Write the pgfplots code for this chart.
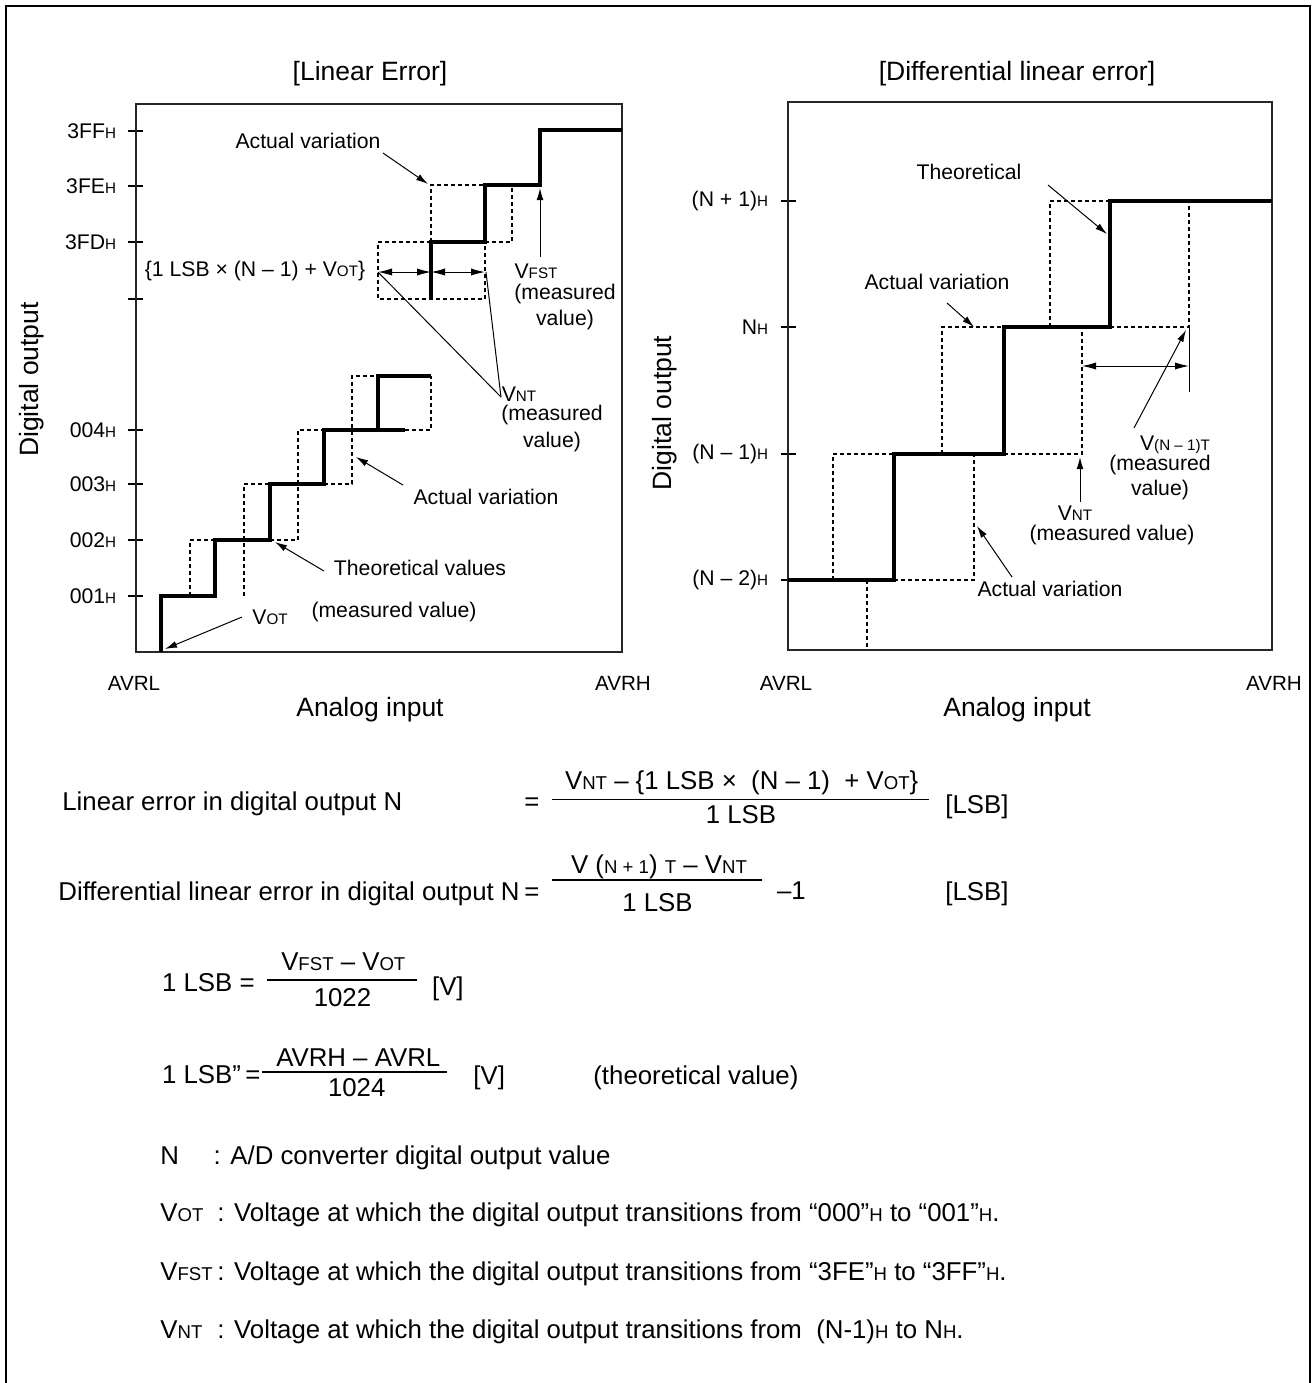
\documentclass[border=0pt]{standalone}
\usepackage{fontspec}
\setmainfont{Liberation Sans}
\usepackage{pgfplots}
\pgfplotsset{compat=1.18}
\usetikzlibrary{arrows.meta}

\newcommand{\fA}{\fontsize{10.6}{12.7}\selectfont}
\newcommand{\fS}{\fontsize{7.6}{9}\selectfont}
\newcommand{\fL}{\fontsize{13.25}{15.9}\selectfont}
\newcommand{\fB}{\fontsize{12.9}{15.5}\selectfont}
\newcommand{\fT}{\fontsize{10.3}{12}\selectfont}
\newcommand{\sH}{{\fS H}}
\newcommand{\sm}[1]{{\fS #1}}
\newcommand{\bs}[1]{{\fontsize{9.3}{11}\selectfont #1}}

\tikzset{
 th/.style={line width=1.7pt, black, line join=miter},
 da/.style={line width=0.55pt, black, dash pattern=on 2pt off 1.5pt},
 ar/.style={line width=0.5pt, black, -{Latex[length=6pt,width=3.4pt]}},
 dar/.style={line width=0.5pt, black, {Latex[length=7pt,width=3.6pt]}-{Latex[length=7pt,width=3.6pt]}},
 ln/.style={line width=0.5pt, black},
 tx/.style={inner sep=0pt, anchor=center},
 bw/.style={inner sep=0pt, anchor=base west, font=\fB},
 bb/.style={inner sep=0pt, anchor=base, font=\fB},
}
\pgfplotsset{
 common/.style={
  scale only axis, clip=false, y dir=reverse,
  axis line style={line width=0.75pt, black!85},
  xtick=\empty, ytick pos=left,
  tick align=center, major tick length=7.5pt,
  ytick style={line width=0.6pt, black},
  yticklabel style={font=\fA, anchor=east, inner sep=0pt},
 }
}

\begin{document}
\begin{tikzpicture}
\useasboundingbox (0,0) rectangle (656.5pt,-691.5pt);

% ---------------- Left: Linear error ----------------
\begin{axis}[common,
  at={(68pt,-326pt)}, anchor=south west,
  width=243pt, height=274pt,
  xmin=136, xmax=622, ymin=104, ymax=652,
  ytick={131,186,242,299,430,484,540,596},
  yticklabels={3FF\sH,3FE\sH,3FD\sH,{},004\sH,003\sH,002\sH,001\sH},
  yticklabel shift=6pt,
]
% outer frame
\draw[line width=1pt] (axis cs:6,1383) -- (axis cs:6,6) -- (axis cs:1310,6) -- (axis cs:1310,1383);

% theoretical (thick) staircase, lower part
\addplot[th] coordinates {(161,652) (161,596) (215,596) (215,540) (270,540) (270,484) (324,484) (324,430) (378,430) (378,376) (431,376)};
\addplot[th] coordinates {(378,430) (405,430)};
% actual variation (dashed), lower part
\addplot[da] coordinates {(190,596) (190,540) (215,540)};
\addplot[da] coordinates {(244,596) (244,484) (270,484)};
\addplot[da] coordinates {(270,540) (298,540) (298,430) (324,430)};
\addplot[da] coordinates {(324,484) (352,484) (352,376) (378,376)};
\addplot[da] coordinates {(405,430) (431,430) (431,376)};
% upper part
\addplot[th] coordinates {(431,299) (431,242) (485,242) (485,185) (540,185) (540,130) (622,130)};
\addplot[da] coordinates {(431,242) (378,242) (378,299) (485,299) (485,242)};
\addplot[da] coordinates {(485,242) (512,242) (512,185)};
\addplot[da] coordinates {(431,242) (431,185) (485,185)};
% arrows and leader lines
\addplot[dar] coordinates {(378,272) (431,272)};
\addplot[dar] coordinates {(431,272) (485,272)};
\addplot[ln] coordinates {(378,272) (501,397)};
\addplot[ln] coordinates {(486,272) (501,397)};
\addplot[ar] coordinates {(540,257) (540,188)};
\addplot[ar] coordinates {(383,153) (428,184)};
\addplot[ar] coordinates {(403,485) (356,457)};
\addplot[ar] coordinates {(324,571) (275,542)};
\addplot[ar] coordinates {(242,617) (165,649)};

% labels left
\node[tx,font=\fL] at (axis cs:370,74) {[Linear Error]};
\node[tx,font=\fA] at (axis cs:308,141) {Actual variation};
\node[tx,font=\fA] at (axis cs:255,271) {\{1 LSB × (N – 1) + V\sm{OT}\}};
\node[tx,font=\fA] at (axis cs:536,271) {V\sm{FST}};
\node[tx,font=\fA] at (axis cs:565,294) {(measured};
\node[tx,font=\fA] at (axis cs:565,320) {value)};
\node[tx,font=\fA] at (axis cs:519,394) {V\sm{NT}};
\node[tx,font=\fA] at (axis cs:552,415) {(measured};
\node[tx,font=\fA] at (axis cs:552,442) {value)};
\node[tx,font=\fA] at (axis cs:486,496.5) {Actual variation};
\node[tx,font=\fA] at (axis cs:420,568) {Theoretical values};
\node[tx,font=\fA] at (axis cs:394,611.7) {(measured value)};
\node[tx,font=\fA] at (axis cs:270,617) {V\sm{OT}};
\node[tx,font=\fT] at (axis cs:134,683) {AVRL};
\node[tx,font=\fT] at (axis cs:623,683) {AVRH};
\node[tx,font=\fL] at (axis cs:370,710) {Analog input};
\node[tx,font=\fL,rotate=90] at (axis cs:31.6,379.5) {Digital output};

% labels right
\node[tx,font=\fL] at (axis cs:1017,74) {[Differential linear error]};
\node[tx,font=\fA] at (axis cs:969,172) {Theoretical};
\node[tx,font=\fA] at (axis cs:937,282) {Actual variation};
\node[tx,font=\fA] at (axis cs:1175,445) {V\sm{(N – 1)T}};
\node[tx,font=\fA] at (axis cs:1160,465) {(measured};
\node[tx,font=\fA] at (axis cs:1160,490) {value)};
\node[tx,font=\fA] at (axis cs:1075,513) {V\sm{NT}};
\node[tx,font=\fA] at (axis cs:1112,535) {(measured value)};
\node[tx,font=\fA] at (axis cs:1050,589) {Actual variation};
\node[tx,font=\fT] at (axis cs:786,683) {AVRL};
\node[tx,font=\fT] at (axis cs:1274,683) {AVRH};
\node[tx,font=\fL] at (axis cs:1017,710) {Analog input};
\node[tx,font=\fL,rotate=90] at (axis cs:664.8,413) {Digital output};

% formulas
\node[bw] at (axis cs:62,810) {Linear error in digital output N};
\node[bb] at (axis cs:532,810) {=};
\node[bb] at (axis cs:741.7,789.5) {V\bs{NT} – \{1 LSB ×\ \ (N – 1)\ \ + V\bs{OT}\}};
\draw[line width=0.8pt] (axis cs:551.7,799.3) -- (axis cs:929.3,799.3);
\node[bb] at (axis cs:741,823.3) {1 LSB};
\node[bw] at (axis cs:945,813.3) {[LSB]};

\node[bw] at (axis cs:58,900) {Differential linear error in digital output N};
\node[bb] at (axis cs:532,900) {=};
\node[bb] at (axis cs:659,873.5) {V (\bs{N + 1}) \bs{T} – V\bs{NT}};
\draw[line width=0.8pt] (axis cs:551.7,880) -- (axis cs:761.7,880);
\node[bb] at (axis cs:657.5,911.7) {1 LSB};
\node[bw] at (axis cs:776.7,899.3) {–1};
\node[bw] at (axis cs:945,900) {[LSB]};

\node[bw] at (axis cs:161.7,991.7) {1 LSB =};
\node[bb] at (axis cs:343.3,970) {V\bs{FST} – V\bs{OT}};
\draw[line width=0.8pt] (axis cs:266.7,980) -- (axis cs:417.3,980);
\node[bb] at (axis cs:342.5,1006) {1022};
\node[bw] at (axis cs:431.7,995) {[V]};

\node[bw] at (axis cs:161.7,1083) {1 LSB”\,=};
\node[bb] at (axis cs:358.3,1066.7) {AVRH – AVRL};
\draw[line width=0.8pt] (axis cs:262,1071.7) -- (axis cs:446.7,1071.7);
\node[bb] at (axis cs:356.7,1096.7) {1024};
\node[bw] at (axis cs:473,1084) {[V]};
\node[bw] at (axis cs:593,1084) {(theoretical value)};

\node[bw] at (axis cs:160,1164.3) {N};
\node[bw] at (axis cs:213.3,1164.3) {: A/D converter digital output value};
\node[bw] at (axis cs:160,1221.7) {V\bs{OT}};
\node[bw] at (axis cs:217,1221.7) {: Voltage at which the digital output transitions from “000”\bs{H} to “001”\bs{H}.};
\node[bw] at (axis cs:160,1280) {V\bs{FST}};
\node[bw] at (axis cs:217,1280) {: Voltage at which the digital output transitions from “3FE”\bs{H} to “3FF”\bs{H}.};
\node[bw] at (axis cs:160,1338) {V\bs{NT}};
\node[bw] at (axis cs:217,1338) {: Voltage at which the digital output transitions from \ (N-1)\bs{H} to N\bs{H}.};
\end{axis}

% ---------------- Right: Differential linear error ----------------
\begin{axis}[common,
  at={(394pt,-325pt)}, anchor=south west,
  width=242pt, height=274pt,
  xmin=788, xmax=1272, ymin=102, ymax=650,
  ytick={201,327,454,580},
  yticklabels={(N + 1)\sH,N\sH,(N – 1)\sH,(N – 2)\sH},
  yticklabel shift=6pt,
]
\addplot[th] coordinates {(788,580) (894,580) (894,454) (1004,454) (1004,327) (1110,327) (1110,201) (1272,201)};
\addplot[da] coordinates {(867,580) (867,650)};
\addplot[da] coordinates {(833,580) (833,454) (894,454)};
\addplot[da] coordinates {(894,580) (974,580) (974,454)};
\addplot[da] coordinates {(942,454) (942,327) (1004,327)};
\addplot[da] coordinates {(1004,454) (1082,454) (1082,327)};
\addplot[da] coordinates {(1050,327) (1050,201) (1110,201)};
\addplot[da] coordinates {(1110,327) (1189,327) (1189,201)};
\addplot[ln] coordinates {(1189,327) (1189,392)};
\addplot[dar] coordinates {(1082,366) (1189,366)};
\addplot[ar] coordinates {(1080,502) (1080,457)};
\addplot[ar] coordinates {(1134,428) (1186,330)};
\addplot[ar] coordinates {(1048,185) (1107,234)};
\addplot[ar] coordinates {(947,303) (974,327)};
\addplot[ar] coordinates {(1012,577) (977,526)};
\end{axis}
\end{tikzpicture}
\end{document}
